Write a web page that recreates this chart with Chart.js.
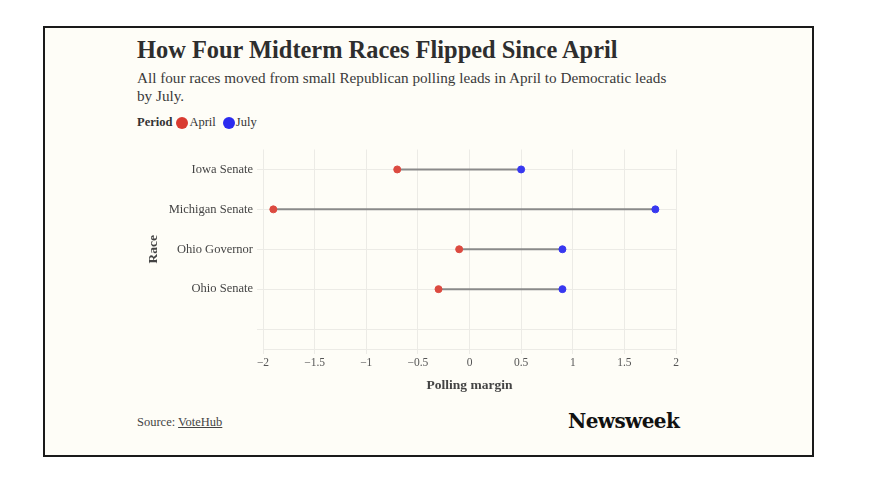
<!DOCTYPE html>
<html>
<head>
<meta charset="utf-8">
<script src="https://cdn.jsdelivr.net/npm/chart.js@4"></script>
<style>
  body { margin: 0; background: #fff; font-family: 'Liberation Serif', serif; color: #333; }
  .card { position: absolute; left: 43px; top: 26px; width: 767px; height: 427px;
          border: 2px solid #1a1a1a; background: #fefdf7; }
  .title { position: absolute; left: 92px; top: 8px; font-size: 24.4px; font-weight: bold; color: #2e2e2e; }
  .sub { position: absolute; left: 92px; top: 41px; font-size: 15.2px; line-height: 18px; color: #3a3a3a; }
  .legend { position: absolute; left: 92px; top: 87px; font-size: 12.5px; color: #333; display: flex; align-items: center; }
  .legend b { margin-right: 4px; }
  .dot { display: inline-block; width: 12px; height: 12px; border-radius: 50%; margin-right: 1px; }
  .legend span.item { margin-right: 7px; display: flex; align-items: center; }
  .source { position: absolute; left: 92px; top: 387px; font-size: 12.5px; color: #444; }
  .source u { text-decoration-thickness: 1px; }
  .logo { position: absolute; left: 523px; top: 381px; font-family: 'DejaVu Serif', serif; font-weight: bold;
          font-size: 20px; letter-spacing: -0.6px; color: #111; }
  #wrap { position: absolute; left: 92px; top: 110px; width: 560px; height: 260px; }
</style>
</head>
<body>
<div class="card">
  <div class="title">How Four Midterm Races Flipped Since April</div>
  <div class="sub">All four races moved from small Republican polling leads in April to Democratic leads<br>by July.</div>
  <div class="legend"><b>Period</b>
    <span class="item"><span class="dot" style="background:#d93b30"></span>April</span>
    <span class="item"><span class="dot" style="background:#2b2bef"></span>July</span>
  </div>
  <div class="source">Source: <u>VoteHub</u></div>
  <div class="logo">Newsweek</div>
  <div id="wrap"><canvas id="chart"></canvas></div>
</div>
<script>
const races = ['Iowa Senate', 'Michigan Senate', 'Ohio Governor', 'Ohio Senate'];
const aprilMargin = [-0.7, -1.9, -0.1, -0.3];
const julyMargin = [0.5, 1.8, 0.9, 0.9];
const raceSlots = [...races, ''];
const xTicks = [-2, -1.5, -1, -0.5, 0, 0.5, 1, 1.5, 2];

const RED = '#dc4a40';
const BLUE = '#3838f0';
const GRID = '#ecebe6';

const connectors = races.map((r, i) => ({
  label: r,
  data: [{ x: aprilMargin[i], y: r }, { x: julyMargin[i], y: r }],
  showLine: true,
  borderColor: '#8a8a8a',
  borderWidth: 2,
  pointRadius: 0,
  order: 2
}));

new Chart(document.getElementById('chart'), {
  type: 'scatter',
  data: {
    datasets: [
      ...connectors,
      { label: 'April', data: races.map((r, i) => ({ x: aprilMargin[i], y: r })),
        backgroundColor: RED, borderColor: RED, pointRadius: 3.5, order: 1 },
      { label: 'July', data: races.map((r, i) => ({ x: julyMargin[i], y: r })),
        backgroundColor: BLUE, borderColor: BLUE, pointRadius: 3.5, order: 1 }
    ]
  },
  options: {
    responsive: true,
    maintainAspectRatio: false,
    animation: false,
    layout: { padding: { top: 6, right: 21 } },
    plugins: { legend: { display: false }, tooltip: { enabled: false } },
    scales: {
      x: {
        type: 'linear', min: -2, max: 2,
        afterBuildTicks: s => { s.ticks = xTicks.map(v => ({ value: v })); },
        afterFit: s => { s.height = 49; },
        grid: { color: GRID, tickLength: 5, tickColor: GRID },
        border: { color: GRID },
        ticks: { color: '#555', padding: 2, font: { family: 'Liberation Serif', size: 11.5 },
                 callback: v => String(v).replace('-', '\u2212') },
        title: { display: true, text: 'Polling margin', color: '#444',
                 font: { family: 'Liberation Serif', size: 13.5, weight: 'bold' }, padding: { top: 8, bottom: 4 } }
      },
      y: {
        type: 'category', labels: raceSlots, offset: true,
        afterFit: s => { s.width = 126; },
        grid: { color: GRID, offset: false, tickLength: 6, tickColor: GRID },
        border: { display: false },
        ticks: { color: '#444', padding: 4, font: { family: 'Liberation Serif', size: 12.5 } },
        title: { display: true, text: 'Race', color: '#444',
                 font: { family: 'Liberation Serif', size: 13.5, weight: 'bold' }, padding: { top: 8, bottom: 0 } }
      }
    }
  }
});
</script>
</body>
</html>
